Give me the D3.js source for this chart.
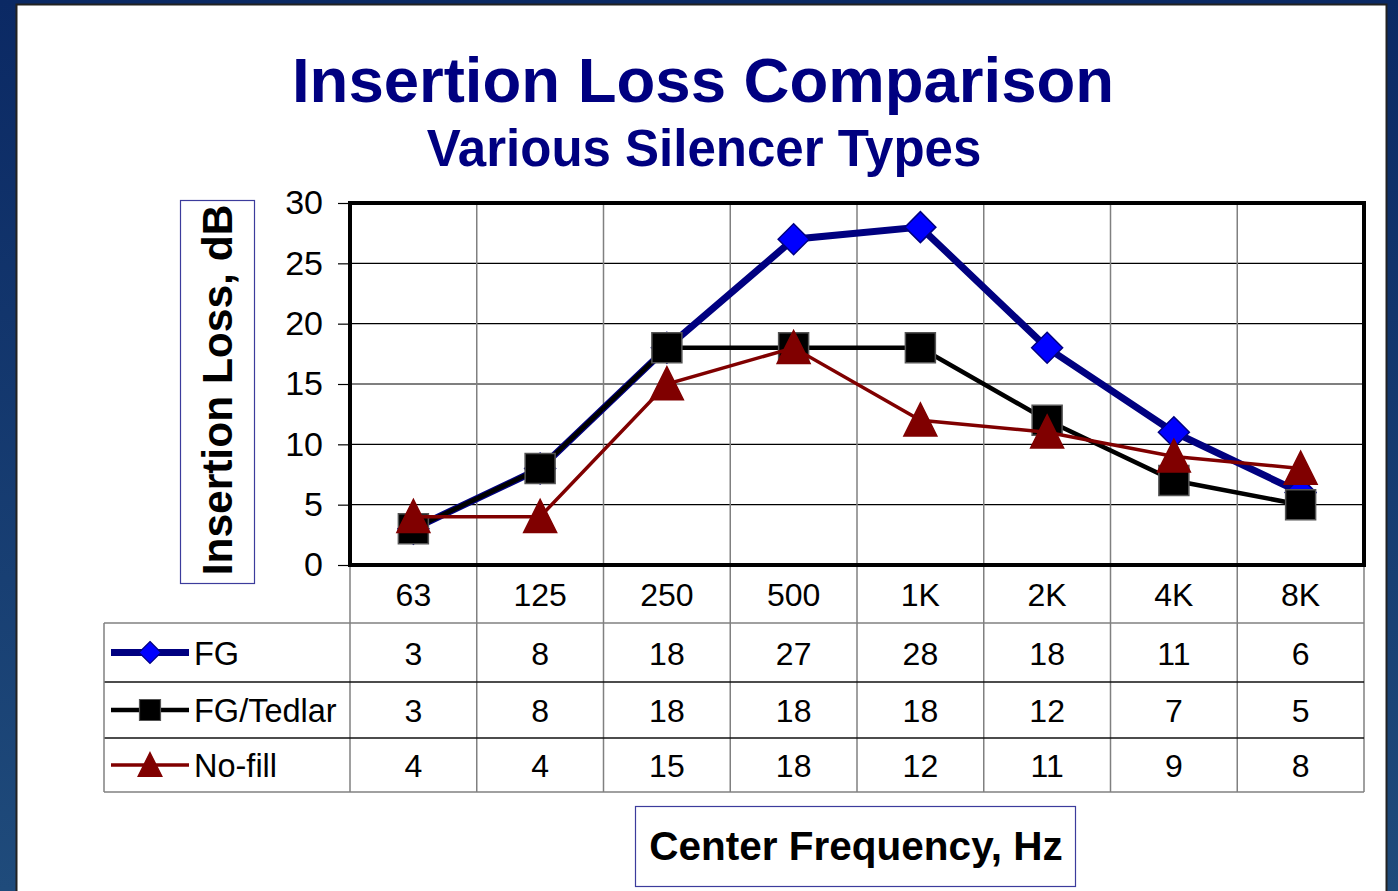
<!DOCTYPE html>
<html>
<head>
<meta charset="utf-8">
<script src="https://cdn.jsdelivr.net/npm/d3@7"></script>
<style>
  html, body { margin: 0; padding: 0; background: #0f3068; }
  svg { display: block; }
  text { font-family: "Liberation Sans", Arial, sans-serif; }
</style>
</head>
<body>
<svg id="chart" width="1398" height="891"></svg>
<script>
// Center frequencies (octave bands)
const categories = ["63", "125", "250", "500", "1K", "2K", "4K", "8K"];
// Insertion loss, dB, per silencer type
const fgValues      = [3, 8, 18, 27, 28, 18, 11, 6];
const tedlarValues  = [3, 8, 18, 18, 18, 12, 7, 5];
const noFillValues  = [4, 4, 15, 18, 12, 11, 9, 8];
const seriesNames   = ["FG", "FG/Tedlar", "No-fill"];
const yTicks        = [0, 5, 10, 15, 20, 25, 30];

const svg = d3.select("#chart");
const W = 1398, H = 891;

// Slide background with a dark-blue frame
const defs = svg.append("defs");
const grad = defs.append("linearGradient").attr("id", "frame").attr("x1", 0).attr("y1", 0).attr("x2", 0).attr("y2", 1);
grad.append("stop").attr("offset", "0%").attr("stop-color", "#0b2964");
grad.append("stop").attr("offset", "100%").attr("stop-color", "#1f4b7b");
svg.append("rect").attr("width", W).attr("height", H).attr("fill", "url(#frame)");
svg.append("rect").attr("x", 16.5).attr("y", 4.5).attr("width", 1370).attr("height", 900)
  .attr("fill", "#ffffff").attr("stroke", "#222").attr("stroke-width", 2);

// Titles
svg.append("text").attr("x", 703).attr("y", 102).attr("text-anchor", "middle")
  .attr("font-size", 63.5).attr("font-weight", "bold").attr("fill", "#000080")
  .text("Insertion Loss Comparison");
svg.append("text").attr("x", 704).attr("y", 166).attr("text-anchor", "middle")
  .attr("font-size", 51).attr("font-weight", "bold").attr("fill", "#000080")
  .text("Various Silencer Types");

// Plot geometry
const plot = { left: 350, right: 1364, top: 203, bottom: 565 };
const x = d3.scaleBand().domain(categories).range([plot.left, plot.right]).padding(0);
const y = d3.scaleLinear().domain([0, 30]).range([plot.bottom, plot.top]);
const cx = c => x(c) + x.bandwidth() / 2;

// Data table geometry
const tableLeft = 104;
const headerBottom = 623;
const rowH = [59, 56, 54];
const rowEdges = [headerBottom];
rowH.forEach((h, i) => rowEdges.push(rowEdges[i] + h));
const tableBottom = rowEdges[rowEdges.length - 1];

const g = svg.append("g");

// Horizontal gridlines
g.selectAll(".hgrid").data(yTicks.filter(t => t > 0 && t < 30)).enter().append("line")
  .attr("x1", plot.left).attr("x2", plot.right)
  .attr("y1", d => y(d)).attr("y2", d => y(d))
  .attr("stroke", "#000").attr("stroke-width", 1.2);

// Vertical category dividers, running through the data table
const dividers = categories.map(c => x(c)).concat([plot.right]);
g.selectAll(".vgrid").data(dividers).enter().append("line")
  .attr("x1", d => d).attr("x2", d => d)
  .attr("y1", (d, i) => (i === 0 ? plot.bottom : plot.top))
  .attr("y2", tableBottom)
  .attr("stroke", "#808080").attr("stroke-width", 1.5);

// Table row lines
g.selectAll(".row").data(rowEdges).enter().append("line")
  .attr("x1", tableLeft).attr("x2", plot.right)
  .attr("y1", d => d).attr("y2", d => d)
  .attr("stroke", (d, i) => (i === 0 || i === rowEdges.length - 1) ? "#808080" : "#111")
  .attr("stroke-width", 1.5);
g.append("line").attr("x1", tableLeft).attr("x2", tableLeft)
  .attr("y1", headerBottom).attr("y2", tableBottom)
  .attr("stroke", "#808080").attr("stroke-width", 1.5);

// Y axis ticks and labels
const yAxis = d3.axisLeft(y).tickValues(yTicks).tickSize(12).tickPadding(15);
const ya = svg.append("g").attr("transform", `translate(${plot.left},0)`).call(yAxis);
ya.select(".domain").remove();
ya.selectAll(".tick line").attr("stroke", "#000").attr("stroke-width", 1.2);
ya.selectAll(".tick text").attr("font-size", 34).attr("fill", "#000")
  .attr("font-family", "Liberation Sans, Arial, sans-serif");

// Plot frame
svg.append("rect").attr("x", plot.left).attr("y", plot.top)
  .attr("width", plot.right - plot.left).attr("height", plot.bottom - plot.top)
  .attr("fill", "none").attr("stroke", "#000").attr("stroke-width", 4);

// Category labels (header row of the table)
svg.selectAll(".cat").data(categories).enter().append("text")
  .attr("x", d => cx(d)).attr("y", (plot.bottom + headerBottom) / 2 + 12)
  .attr("text-anchor", "middle").attr("font-size", 32).attr("fill", "#000")
  .text(d => d);

// Series definitions
const series = [
  { name: seriesNames[0], values: fgValues, line: "#000080", width: 7, marker: "diamond", fill: "#0000ff", stroke: "#000080" },
  { name: seriesNames[1], values: tedlarValues, line: "#000000", width: 4.5, marker: "square", fill: "#000000", stroke: "#555" },
  { name: seriesNames[2], values: noFillValues, line: "#800000", width: 3.5, marker: "triangle", fill: "#800000", stroke: "#800000" }
];

function markerPath(type, s) {
  const h = s / 2;
  if (type === "diamond") return `M0,${-h}L${h},0L0,${h}L${-h},0Z`;
  if (type === "square") return `M${-h},${-h}H${h}V${h}H${-h}Z`;
  return `M0,${-h * 1.05}L${h},${h * 0.95}L${-h},${h * 0.95}Z`;
}
const plotSize = { diamond: 31, square: 30, triangle: 33 };
const keySize = { diamond: 22, square: 21, triangle: 24 };

const line = d3.line().x((d, i) => cx(categories[i])).y(d => y(d));

series.forEach(s => {
  const sg = svg.append("g");
  sg.append("path").attr("d", line(s.values)).attr("fill", "none")
    .attr("stroke", s.line).attr("stroke-width", s.width).attr("stroke-linejoin", "miter");
  sg.selectAll("path.m").data(s.values).enter().append("path").attr("class", "m")
    .attr("transform", (d, i) => `translate(${cx(categories[i])},${y(d)})`)
    .attr("d", markerPath(s.marker, plotSize[s.marker]))
    .attr("fill", s.fill).attr("stroke", s.stroke).attr("stroke-width", 1.5);
});

// Table rows: legend key + values
series.forEach((s, r) => {
  const yc = (rowEdges[r] + rowEdges[r + 1]) / 2;
  svg.append("line").attr("x1", 111).attr("x2", 189).attr("y1", yc).attr("y2", yc)
    .attr("stroke", s.line).attr("stroke-width", s.width);
  svg.append("path").attr("transform", `translate(150,${yc})`)
    .attr("d", markerPath(s.marker, keySize[s.marker]))
    .attr("fill", s.fill).attr("stroke", s.stroke).attr("stroke-width", 1.2);
  svg.append("text").attr("x", 194).attr("y", yc + 12).attr("font-size", 32.5).attr("fill", "#000")
    .text(s.name);
  svg.selectAll(null).data(s.values).enter().append("text")
    .attr("x", (d, i) => cx(categories[i])).attr("y", yc + 12)
    .attr("text-anchor", "middle").attr("font-size", 32).attr("fill", "#000")
    .text(d => d);
});

// Axis titles in outlined boxes
svg.append("rect").attr("x", 180.5).attr("y", 200.5).attr("width", 74).attr("height", 383)
  .attr("fill", "#fff").attr("stroke", "#3c3c9c").attr("stroke-width", 1.2);
svg.append("text").attr("transform", "translate(232,390) rotate(-90)")
  .attr("text-anchor", "middle").attr("font-size", 42.5).attr("font-weight", "bold").attr("fill", "#000")
  .text("Insertion Loss, dB");

svg.append("rect").attr("x", 635.5).attr("y", 806.5).attr("width", 440).attr("height", 80)
  .attr("fill", "#fff").attr("stroke", "#3c3c9c").attr("stroke-width", 1.2);
svg.append("text").attr("x", 856).attr("y", 860)
  .attr("text-anchor", "middle").attr("font-size", 40.5).attr("font-weight", "bold").attr("fill", "#000")
  .text("Center Frequency, Hz");
</script>
</body>
</html>
